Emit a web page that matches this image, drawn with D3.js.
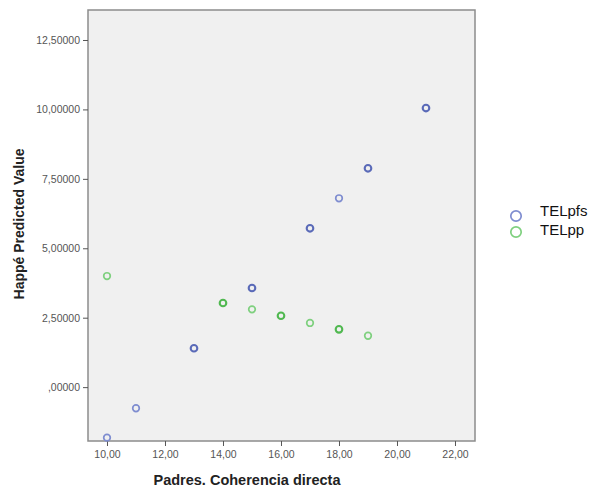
<!DOCTYPE html>
<html>
<head>
<meta charset="utf-8">
<script src="https://cdn.jsdelivr.net/npm/d3@7"></script>
<style>
body { margin:0; background:#fff; }
text { font-family:"Liberation Sans", Arial, sans-serif; }
</style>
</head>
<body>
<div id="chart"></div>
<script>
// values
var pfsX = [10, 11, 13, 15, 17, 18, 19, 21];
var pfsY = [-1.82, -0.76, 1.40, 3.57, 5.72, 6.80, 7.88, 10.05];
var pfsN = [1, 1, 2, 2, 2, 1, 2, 2];   // overlapping cases -> darker ring
var ppX = [10, 14, 15, 16, 17, 18, 19];
var ppY = [4.00, 3.03, 2.80, 2.57, 2.31, 2.08, 1.85];
var ppN = [1, 2, 1, 2, 1, 2, 1];
var xTicks = [10, 12, 14, 16, 18, 20, 22];
var yTicks = [0, 2.5, 5, 7.5, 10, 12.5];
var seriesNames = ["TELpfs", "TELpp"];
var seriesColors = ["#7f8dd0", "#7fd07f"];
var seriesDark = ["#5a6ab8", "#50b850"];

var width = 590, height = 489;
var plotLeft = 88, plotTop = 10, plotRight = 475, plotBottom = 441;

var svg = d3.select("#chart").append("svg")
	.attr("width", width)
	.attr("height", height);

var x = d3.scaleLinear().domain([9.345, 22.69]).range([plotLeft, plotRight]);
var y = d3.scaleLinear().domain([-1.94, 13.58]).range([plotBottom, plotTop]);

function fmt(v){ return d3.format(".2f")(v).replace(".", ","); }
function fmtY(v){ var s = d3.format(".5f")(v).replace(".", ","); return s.indexOf("0,") === 0 ? s.substring(1) : s; }

svg.append("rect")
	.attr("x", plotLeft).attr("y", plotTop)
	.attr("width", plotRight-plotLeft).attr("height", plotBottom-plotTop)
	.attr("fill", "#f0f0f0")
	.attr("stroke", "#8c8c8c")
	.attr("stroke-width", 1.5);

var xAxis = svg.append("g")
	.attr("transform", "translate(0," + plotBottom + ")")
	.call(d3.axisBottom(x).tickValues(xTicks).tickFormat(fmt).tickSize(5).tickSizeOuter(0));
var yAxis = svg.append("g")
	.attr("transform", "translate(" + plotLeft + ",0)")
	.call(d3.axisLeft(y).tickValues(yTicks).tickFormat(fmtY).tickSize(5).tickSizeOuter(0));

[xAxis, yAxis].forEach(function(a){
	a.select(".domain").remove();
	a.selectAll(".tick line").attr("stroke", "#555");
	a.selectAll(".tick text")
		.attr("fill", "#555")
		.style("font-size", "10.5px")
		.style("font-family", "Liberation Sans, Arial, sans-serif");
});
xAxis.selectAll(".tick text").attr("dy", "0.85em");

svg.append("text")
	.attr("x", 247).attr("y", 485)
	.attr("text-anchor", "middle")
	.attr("font-weight", "bold")
	.attr("font-size", "14.5px")
	.attr("fill", "#222")
	.text("Padres. Coherencia directa");

svg.append("text")
	.attr("transform", "translate(24,224) rotate(-90)")
	.attr("text-anchor", "middle")
	.attr("font-weight", "bold")
	.attr("font-size", "14px")
	.attr("fill", "#222")
	.text("Happé Predicted Value");

var series = [
	{ xs: pfsX, ys: pfsY, ns: pfsN },
	{ xs: ppX, ys: ppY, ns: ppN }
];

series.forEach(function(s, i){
	var pts = s.xs.map(function(v, j){ return { x: v, y: s.ys[j], n: s.ns[j] }; });
	svg.append("g").selectAll("circle")
		.data(pts).enter()
		.append("circle")
		.attr("cx", function(d){ return x(d.x); })
		.attr("cy", function(d){ return y(d.y); })
		.attr("r", 3.3)
		.attr("fill", "none")
		.attr("stroke", function(d){ return d.n > 1 ? seriesDark[i] : seriesColors[i]; })
		.attr("stroke-width", function(d){ return d.n > 1 ? 2.1 : 1.7; });
});

var legend = svg.append("g").attr("transform", "translate(516,216)");
seriesNames.forEach(function(name, i){
	legend.append("circle")
		.attr("cy", i*16)
		.attr("r", 5.2)
		.attr("fill", "none")
		.attr("stroke", seriesColors[i])
		.attr("stroke-width", 1.7);
	legend.append("text")
		.attr("x", 24).attr("y", i*19)
		.attr("font-size", "15px")
		.attr("fill", "#111")
		.text(name);
});
</script>
</body>
</html>
